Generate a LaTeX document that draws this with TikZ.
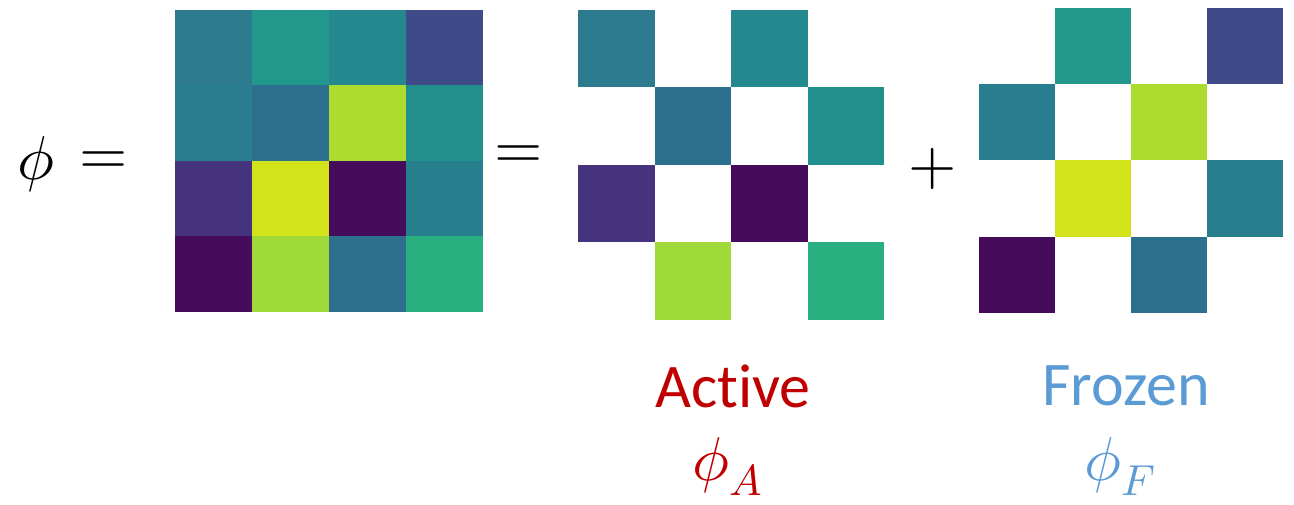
\documentclass[tikz,border=0pt]{standalone}
\usepackage{unicode-math}
\setmainfont[Ligatures=NoCommon]{Carlito}
\setmathfont{Latin Modern Math}
\begin{document}
\begin{tikzpicture}[x=1pt,y=-1pt,
  lbl/.style={inner sep=0pt,font=\fontsize{62}{70}\selectfont},
  mth/.style={inner sep=0pt,font=\fontsize{62}{70}\selectfont}]
\definecolor{activered}{HTML}{C00000}
\definecolor{frozenblue}{HTML}{5B9BD5}
% viridis cell colours
\definecolor{vA}{HTML}{2C7A8E}
\definecolor{vB}{HTML}{21988B}
\definecolor{vC}{HTML}{23898E}
\definecolor{vD}{HTML}{3F4A89}
\definecolor{vE}{HTML}{287D8E}
\definecolor{vF}{HTML}{2D708E}
\definecolor{vG}{HTML}{ADDC30}
\definecolor{vH}{HTML}{21908D}
\definecolor{vI}{HTML}{46337E}
\definecolor{vJ}{HTML}{D2E21B}
\definecolor{vK}{HTML}{440C5A}
\definecolor{vL}{HTML}{277F8E}
\definecolor{vM}{HTML}{A0DA39}
\definecolor{vN}{HTML}{29AF7F}
\useasboundingbox (0,0) rectangle (1294,505);

% full matrix phi
\foreach \r/\c/\col in {0/0/vA,0/1/vB,0/2/vC,0/3/vD,
                        1/0/vE,1/1/vF,1/2/vG,1/3/vH,
                        2/0/vI,2/1/vJ,2/2/vK,2/3/vL,
                        3/0/vK,3/1/vM,3/2/vF,3/3/vN}
  \fill[\col] ({175+77*\c},{10+75.5*\r}) rectangle ++(77,75.5);

% active part
\foreach \r/\c/\col in {0/0/vA,0/2/vC,1/1/vF,1/3/vH,
                        2/0/vI,2/2/vK,3/1/vM,3/3/vN}
  \fill[\col] ({578+76.5*\c},{10+77.5*\r}) rectangle ++(76.5,77.5);

% frozen part
\foreach \r/\c/\col in {0/1/vB,0/3/vD,1/0/vE,1/2/vG,
                        2/1/vJ,2/3/vL,3/0/vK,3/2/vF}
  \fill[\col] ({979+76*\c},{8+76.25*\r}) rectangle ++(76,76.25);

% equation symbols
\node[mth,anchor=base west] (lhs) at (17,180) {$\phi$};
\node[mth] (eqa) at (104,163) {$=$};
\node[mth] (eqb) at (519,157) {$=$};
\node[mth] (plus) at (933,169) {$+$};

% labels
\node[lbl,text=activered] (active) at (733,386) {Active};
\node[lbl,text=frozenblue] (frozen) at (1126,386) {Frozen};
\node[mth,text=activered,anchor=base west] (phiA) at (692,480) {$\phi_A$};
\node[mth,text=frozenblue,anchor=base west] (phiF) at (1084,480) {$\phi_F$};
\end{tikzpicture}
\end{document}
